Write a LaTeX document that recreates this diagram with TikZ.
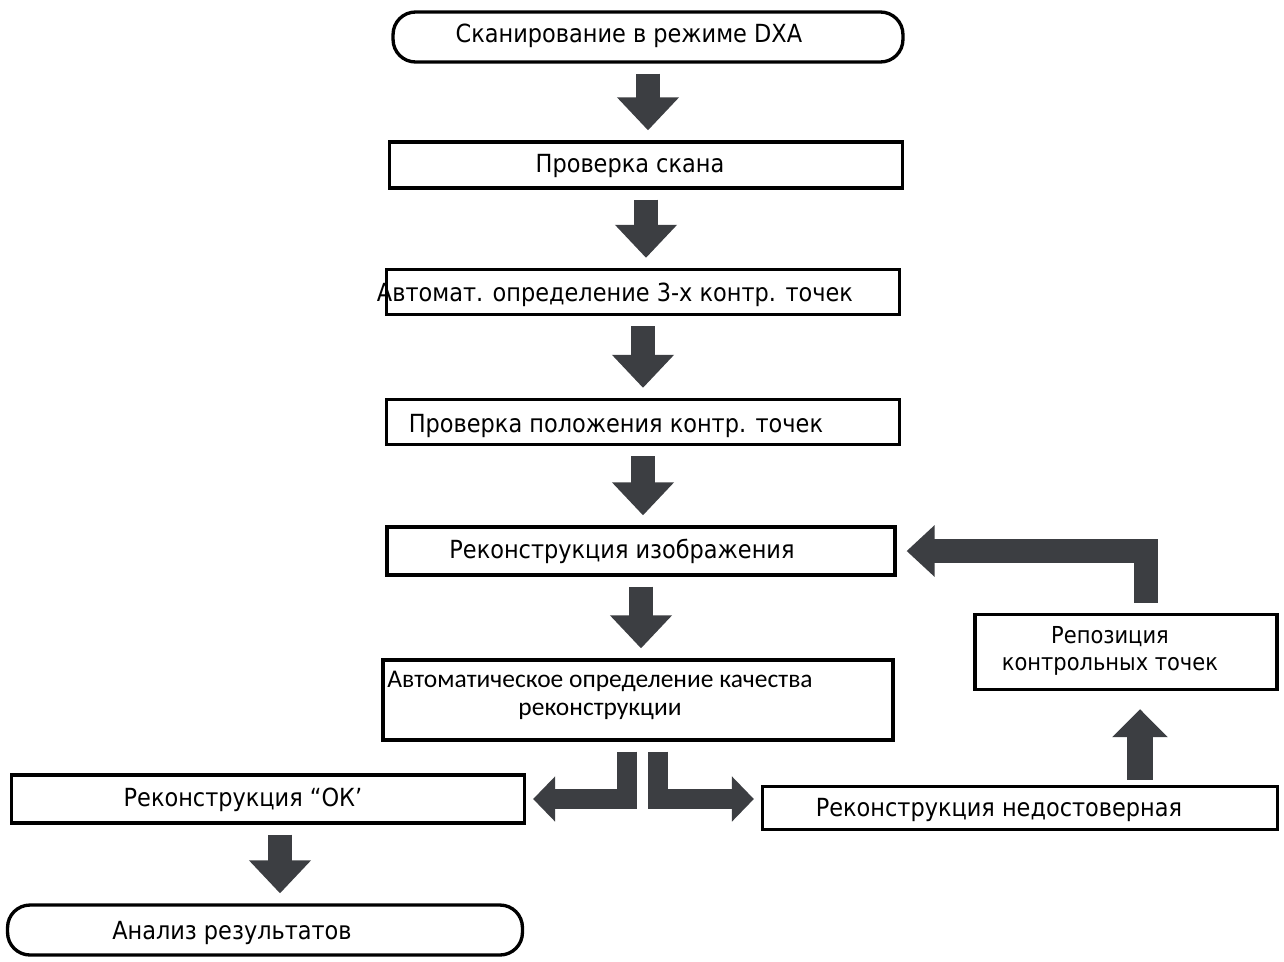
\documentclass[tikz,border=0pt]{standalone}
\usepackage{fontspec}
\setmainfont{DejaVu Sans Condensed}
\newfontfamily\calibrifont{Carlito}
\usepackage{tikz}
\usetikzlibrary{arrows.meta, positioning, calc}
\definecolor{arrowgray}{RGB}{60,62,66}

\begin{document}
\begin{tikzpicture}[
    x=0.02cm, y=-0.02cm,
    box/.style={draw, line width=1.9pt, rectangle, inner sep=0pt},
    terminal/.style={box, rounded corners=0.45cm},
    boxtext/.style={inner sep=0pt, text height=10.4pt, text depth=0pt,
        font=\fontsize{14.2}{17}\selectfont},
    downarrow/.style={draw=arrowgray, line width=0.48cm,
        -{Triangle[length=0.66cm, width=1.2cm]},
        shorten <=0.2cm, shorten >=0.2cm},
    splitarrow/.style={draw=arrowgray, line width=0.4cm, line join=miter,
        -{Triangle[length=0.44cm, width=0.88cm]},
        shorten <=0.2cm, shorten >=0.14cm},
    uparrow/.style={draw=arrowgray, line width=0.52cm,
        -{Triangle[length=0.56cm, width=1.08cm]},
        shorten <=0.1cm, shorten >=0.36cm},
    looparrow/.style={draw=arrowgray, line width=0.48cm, line join=miter,
        -{Triangle[length=0.56cm, width=1.0cm]},
        shorten <=0.2cm, shorten >=0.2cm},
]

\fill[white] (0,0) rectangle (1284,961);
\useasboundingbox (0,0) rectangle (1284,961);

% Main column
\node[terminal, minimum width=10.2cm, minimum height=1cm] (scan) at (648,37) {};
\node[boxtext] (scan-t) at (629,33) {Сканирование в режиме DXA};

\node[box, minimum width=10.26cm, minimum height=0.92cm] (check) at (646,165) {};
\node[boxtext] (check-t) at (630,163) {Проверка скана};

\node[box, minimum width=10.26cm, minimum height=0.9cm] (auto) at (643,292) {};
\node[boxtext] (auto-t) at (615,292) {Автомат. определение 3-х контр. точек};

\node[box, minimum width=10.26cm, minimum height=0.9cm] (pos) at (643,422) {};
\node[boxtext] (pos-t) at (616,423) {Проверка положения контр. точек};

\node[box, minimum width=10.16cm, minimum height=0.96cm] (recon) at (641,551) {};
\node[boxtext] (recon-t) at (622,549) {Реконструкция изображения};

\node[box, minimum width=10.2cm, minimum height=1.6cm] (quality) at (638,700) {};
\node[inner sep=0pt, align=center, font=\calibrifont\fontsize{14.5}{16}\selectfont]
    (quality-t) at (600,695) {Автоматическое определение качества\\реконструкции};

% Branches
\node[box, minimum width=10.26cm, minimum height=0.96cm] (ok) at (268,799) {};
\node[boxtext] (ok-t) at (243,797) {Реконструкция “ОК’};

\node[box, minimum width=10.3cm, minimum height=0.86cm] (bad) at (1020,808) {};
\node[boxtext] (bad-t) at (999,807) {Реконструкция недостоверная};

\node[box, minimum width=6.04cm, minimum height=1.5cm] (repos) at (1126,652) {};
\node[inner sep=0pt, align=center, font=\fontsize{13.3}{15.4}\selectfont]
    (repos-t) at (1110,651) {Репозиция\\контрольных точек};

\node[terminal, minimum width=10.3cm, minimum height=1cm] (result) at (265,930) {};
\node[boxtext] (result-t) at (232,930) {Анализ результатов};

% Arrows down the column
\draw[downarrow] (scan.south) -- (scan.south |- check.north);
\draw[downarrow] (check.south) -- (check.south |- auto.north);
\draw[downarrow] (auto.south) -- (auto.south |- pos.north);
\draw[downarrow] (pos.south) -- (pos.south |- recon.north);
\draw[downarrow] (recon.south) -- (recon.south |- quality.north);

% Split after quality check
\coordinate (qleft) at ($(quality.south)+(-11,0)$);
\coordinate (qright) at ($(quality.south)+(20,0)$);
\draw[splitarrow] (qleft) |- (ok.east);
\draw[splitarrow] (qright) |- (bad.west |- ok.east);

% OK -> analysis
\coordinate (okfoot) at ($(ok.south)+(12,0)$);
\draw[downarrow] (okfoot) -- (okfoot |- result.north);

% Loop back through repositioning
\coordinate (badfoot) at ($(bad.north)+(120,0)$);
\draw[uparrow] (badfoot) -- (badfoot |- repos.south);
\coordinate (reposfoot) at ($(repos.north)+(20,0)$);
\draw[looparrow] (reposfoot) |- (recon.east);

\end{tikzpicture}
\end{document}
